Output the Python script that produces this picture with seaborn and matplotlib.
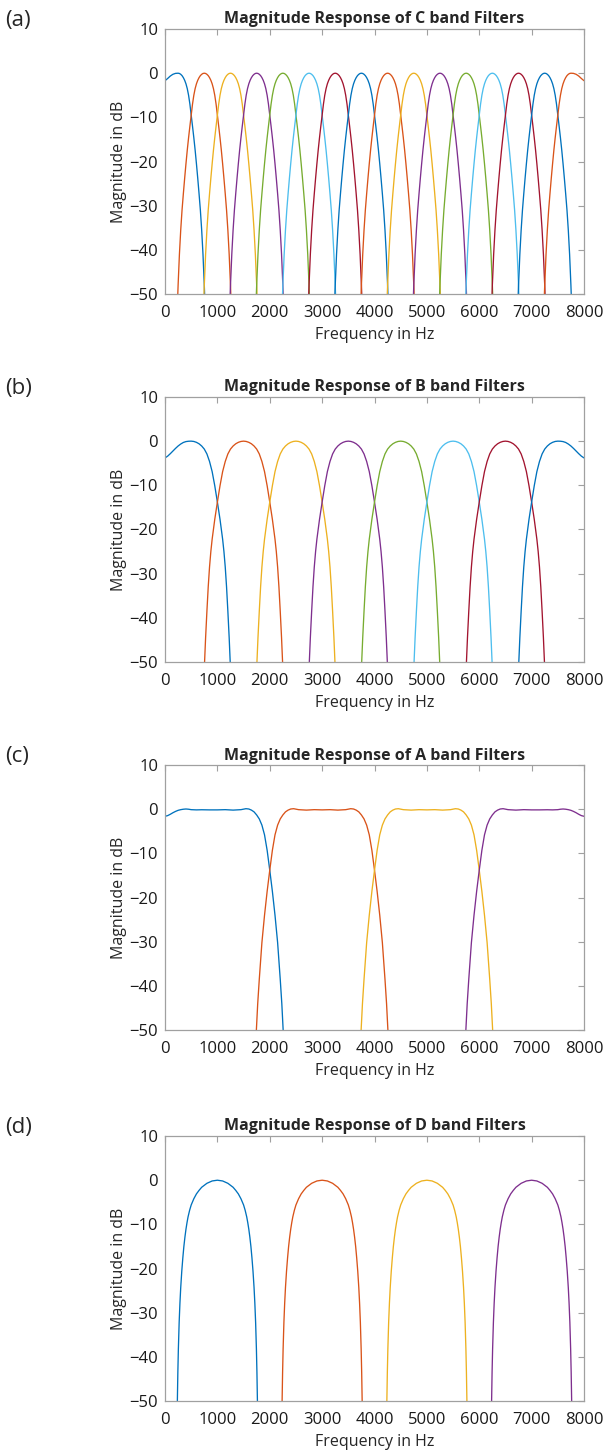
import numpy as np
import pandas as pd
import matplotlib
matplotlib.use("Agg")
import matplotlib.pyplot as plt
import seaborn as sns

# MATLAB default line colours
matlab_colors = ["#0072BD", "#D95319", "#EDB120", "#7E2F8E", "#77AC30", "#4DBEEE", "#A2142F"]

freq_ticks = [0, 1000, 2000, 3000, 4000, 5000, 6000, 7000, 8000]
db_ticks = [-50, -40, -30, -20, -10, 0, 10]

# ---- C band: 16 filters, lobe read as (offset from centre in Hz, dB) ----
c_centers = [250, 750, 1250, 1750, 2250, 2750, 3250, 3750,
             4250, 4750, 5250, 5750, 6250, 6750, 7250, 7750]
c_offsets = [0, 25, 50, 75, 100, 125, 150, 175, 200, 225, 250, 275, 300, 325,
             350, 375, 400, 425, 450, 475, 500, 515, 530]
c_db = [0, -0.06, -0.25, -0.55, -1.0, -1.6, -2.4, -3.5, -5.0, -7.0, -9.5, -12.0,
        -14.6, -17.4, -20.5, -23.8, -27.3, -31.0, -35.5, -41.0, -48.0, -53.0, -60.0]
c_edge_f = [0, 50, 100, 150, 200, 250]
c_edge_db = [-1.7, -1.2, -0.65, -0.25, -0.04, 0]

# ---- B band: 8 filters ----
b_centers = [500, 1500, 2500, 3500, 4500, 5500, 6500, 7500]
b_offsets = [0, 50, 100, 150, 200, 250, 300, 350, 400, 450, 500, 550, 600,
             625, 650, 675, 700, 725, 750, 770]
b_db = [0, -0.07, -0.27, -0.6, -1.1, -1.8, -2.9, -4.6, -6.9, -10.1, -13.8, -17.7,
        -22.2, -25.0, -28.5, -33.0, -38.5, -44.5, -51.5, -58.0]
b_edge_f = [0, 50, 100, 150, 200, 250, 300, 350, 400, 450, 500]
b_edge_db = [-3.8, -3.4, -2.85, -2.25, -1.65, -1.1, -0.65, -0.3, -0.1, -0.02, 0]

# ---- A band: 4 flat-top filters ----
a_centers = [1000, 3000, 5000, 7000]
a_offsets = [0, 150, 300, 450, 545, 600, 650, 700, 750, 800, 850, 900, 950,
             1000, 1050, 1100, 1150, 1200, 1230, 1260, 1280]
a_db = [-0.15, -0.1, -0.2, -0.1, 0.12, 0.05, -0.2, -0.6, -1.3, -2.2, -3.6, -5.8,
        -9.3, -13.8, -18.6, -24.0, -30.2, -38.5, -44.0, -51.0, -58.0]
a_edge_f = [0, 50, 100, 150, 200, 250, 300, 350, 400, 450, 500, 600, 700, 850, 1000]
a_edge_db = [-1.6, -1.45, -1.15, -0.8, -0.5, -0.25, -0.1, 0.0, 0.05, 0.0, -0.1,
             -0.15, -0.12, -0.15, -0.15]

# ---- D band: 4 filters ----
d_centers = [1000, 3000, 5000, 7000]
d_offsets = [0, 100, 200, 300, 350, 400, 450, 500, 530, 560, 580, 600, 620, 640,
             660, 680, 700, 715, 730, 745, 755, 765, 775]
d_db = [0, -0.17, -0.7, -1.6, -2.3, -3.1, -4.2, -5.6, -6.8, -8.3, -9.6, -11.1,
        -12.9, -15.0, -17.6, -20.6, -24.3, -27.8, -32.2, -38.2, -43.5, -50.5, -60.0]


def band_frame(centers, offsets, dbs, edge_f=None, edge_db=None):
    rows = []
    off = np.array(offsets, dtype=float)
    val = np.array(dbs, dtype=float)
    n = len(centers)
    for i, c in enumerate(centers):
        if edge_f is not None and i == 0:
            f = np.concatenate([edge_f[:-1], c + off])
            v = np.concatenate([edge_db[:-1], val])
        elif edge_f is not None and i == n - 1:
            f = np.concatenate([c - off[::-1], 8000 - np.array(edge_f[::-1][1:])])
            v = np.concatenate([val[::-1], edge_db[::-1][1:]])
        else:
            f = np.concatenate([c - off[::-1], c + off[1:]])
            v = np.concatenate([val[::-1], val[1:]])
        for a, b in zip(f, v):
            rows.append((a, b, i))
    return pd.DataFrame(rows, columns=["freq", "db", "filt"])


panels = [
    ("(a)", "Magnitude Response of C band Filters",
     band_frame(c_centers, c_offsets, c_db, c_edge_f, c_edge_db), 0.7975),
    ("(b)", "Magnitude Response of B band Filters",
     band_frame(b_centers, b_offsets, b_db, b_edge_f, b_edge_db), 0.5441),
    ("(c)", "Magnitude Response of A band Filters",
     band_frame(a_centers, a_offsets, a_db, a_edge_f, a_edge_db), 0.2906),
    ("(d)", "Magnitude Response of D band Filters",
     band_frame(d_centers, d_offsets, d_db), 0.0351),
]

sns.set_style("white")
plt.rcParams["font.family"] = ["Open Sans", "DejaVu Sans"]

fig = plt.figure(figsize=(6.06, 14.52), dpi=100)

for tag, title, df, bottom in panels:
    ax = fig.add_axes([0.2723, bottom, 0.6914, 0.1825])
    n = df["filt"].nunique()
    pal = [matlab_colors[k % 7] for k in range(n)]
    sns.lineplot(data=df, x="freq", y="db", hue="filt", palette=pal,
                 estimator=None, sort=False, legend=False, lw=0.95, ax=ax)
    ax.set_xlim(0, 8000)
    ax.set_ylim(-50, 10)
    ax.set_xticks(freq_ticks)
    ax.set_yticks(db_ticks)
    ax.tick_params(direction="in", top=True, right=True, length=4,
                   width=0.8, color="#a0a0a0", labelsize=12, labelcolor="#1a1a1a")
    ax.tick_params(axis="x", pad=8)
    ax.tick_params(axis="y", pad=5)
    for s in ax.spines.values():
        s.set_color("#a0a0a0")
        s.set_linewidth(0.9)
    ax.set_title(title, fontsize=11.5, fontweight="bold", pad=4)
    ax.set_xlabel("Frequency in Hz", fontsize=11.5, labelpad=4)
    ax.set_ylabel("Magnitude in dB", fontsize=11.5, labelpad=2)
    fig.text(0.008, bottom + 0.1825 + 0.006, tag, fontsize=16, va="center", ha="left")

fig.savefig("out.png", dpi=100)
